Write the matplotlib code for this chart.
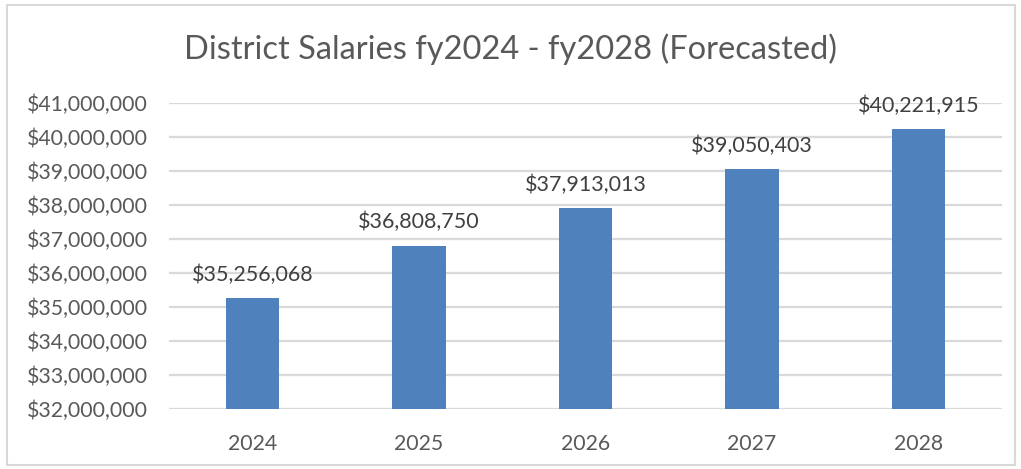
import matplotlib
matplotlib.use("Agg")
import matplotlib.pyplot as plt
from matplotlib.patches import Rectangle
from matplotlib.ticker import FuncFormatter, MultipleLocator

years = ["2024", "2025", "2026", "2027", "2028"]
salaries = [35256068, 36808750, 37913013, 39050403, 40221915]

plt.rcParams['font.family'] = ['Lato', 'DejaVu Sans']

fig = plt.figure(figsize=(10.21, 4.69), dpi=100)
ax = fig.add_axes([0.1655, 0.1279, 0.8159, 0.6525])

x = range(len(years))
ax.bar(x, salaries, width=0.32, color='#4F81BD', zorder=3)
for i, v in zip(x, salaries):
    ax.text(i, v + 380000, "${:,.0f}".format(v), ha='center', va='bottom',
            fontsize=15.5, color='#404040')

ax.set_ylim(32000000, 41000000)
ax.set_xlim(-0.5, len(years) - 0.5)
ax.yaxis.set_major_locator(MultipleLocator(1000000))
ax.yaxis.set_major_formatter(FuncFormatter(lambda v, p: "${:,.0f}".format(v)))
ax.set_xticks(list(x))
ax.set_xticklabels(years)
ax.grid(axis='y', color='#D9D9D9', linewidth=1.6, zorder=0)
for s in ax.spines.values():
    s.set_visible(False)
ax.tick_params(axis='both', length=0, labelsize=15.3, colors='#595959')
ax.tick_params(axis='y', pad=15)
ax.tick_params(axis='x', pad=18)

fig.text(0.5, 0.895, "District Salaries fy2024 - fy2028 (Forecasted)", ha='center', va='center',
         fontsize=23.5, color='#595959')

fig.patches.append(Rectangle((0.007, 0.008), 0.987, 0.981, transform=fig.transFigure,
                             fill=False, edgecolor='#D9D9D9', linewidth=1.5))

fig.savefig("out.png", dpi=100)
